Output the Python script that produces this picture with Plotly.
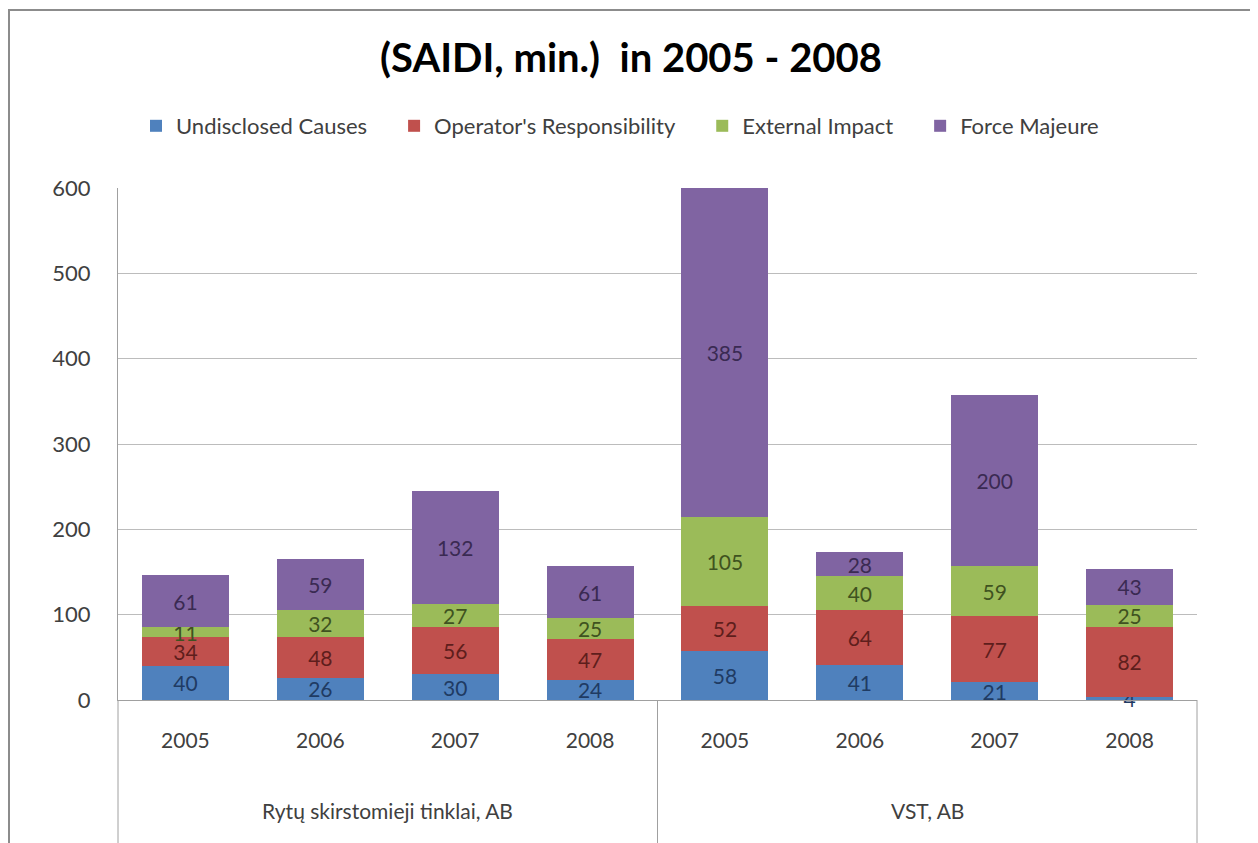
import plotly.graph_objects as go

# categories
groups = ["Rytų skirstomieji tinklai, AB", "VST, AB"]
years = ["2005", "2006", "2007", "2008"]

# series values, group 1 then group 2, years in order
undisclosed = [40, 26, 30, 24, 58, 41, 21, 4]
operator = [34, 48, 56, 47, 52, 64, 77, 82]
external = [11, 32, 27, 25, 105, 40, 59, 25]
force_majeure = [61, 59, 132, 61, 385, 28, 200, 43]

y_ticks = [0, 100, 200, 300, 400, 500, 600]

keys = [g + " " + y for g in groups for y in years]
labels = [y for g in groups for y in years]

series = [
    ("Undisclosed Causes", undisclosed, "#4F81BD", "#1F3B63"),
    ("Operator's Responsibility", operator, "#C0504D", "#5E1E1C"),
    ("External Impact", external, "#9BBB59", "#3F5220"),
    ("Force Majeure", force_majeure, "#8064A2", "#3A2A52"),
]

FONT = "Lato"
# page body has an 8px margin, so the figure is drawn 8px smaller
W, H = 1250, 835
PLOT_H = 512

fig = go.Figure()
for name, vals, color, tcolor in series:
    fig.add_trace(go.Bar(
        x=keys, y=vals, name=name + "\u2002\u2002",  # wider gap between legend items
        marker=dict(color=color, line=dict(width=0)),
        text=vals, textposition="inside", insidetextanchor="middle",
        textangle=0, constraintext="none", cliponaxis=False,
        textfont=dict(family=FONT, size=21, color=tcolor),
    ))

fig.update_layout(
    barmode="stack",
    bargap=0.355,
    width=W, height=H,
    margin=dict(l=110, r=61, t=180, b=143),
    paper_bgcolor="white", plot_bgcolor="white",
    font=dict(family=FONT, color="#404040"),
    uniformtext=dict(minsize=21, mode="show"),
    title=dict(text="<b>(SAIDI, min.)  in 2005 - 2008</b>",
               x=(631 - 8) / W, xanchor="center", y=1 - 50 / H, yanchor="middle",
               yref="container", font=dict(family=FONT, size=40, color="black")),
    legend=dict(orientation="h", x=(136 - 118) / 1079, xanchor="left",
                y=(692 - 118) / PLOT_H, yanchor="middle",
                font=dict(family=FONT, size=22, color="#404040"),
                traceorder="normal"),
    showlegend=True,
)

fig.update_xaxes(
    type="category", tickmode="array", tickvals=keys, ticktext=labels,
    tickfont=dict(family=FONT, size=21, color="#404040"),
    showline=True, linecolor="#a0a0a0", linewidth=1,
    showgrid=False, ticks="", ticklabelstandoff=22,
)
fig.update_yaxes(
    range=[0, 600], tickvals=y_ticks,
    tickfont=dict(family=FONT, size=22, color="#404040"),
    showline=True, linecolor="#a0a0a0", linewidth=1,
    showgrid=True, gridcolor="#bcbcbc", gridwidth=1,
    zeroline=False, ticks="", ticklabelstandoff=22,
)

# group labels and dividers under the axis
for i, g in enumerate(groups):
    fig.add_annotation(text=g, xref="paper", yref="paper",
                       x=(i + 0.5) / len(groups), y=(692 - 802) / PLOT_H,
                       xanchor="center", yanchor="middle", showarrow=False,
                       font=dict(family=FONT, size=21, color="#404040"))
for i in range(len(groups) + 1):
    fig.add_shape(type="line", xref="paper", yref="paper",
                  x0=i / len(groups), x1=i / len(groups), y0=0, y1=-0.3,
                  line=dict(color="#a0a0a0", width=1))

# chart border
fig.add_shape(type="rect", xref="paper", yref="paper",
              x0=(1 - 110) / 1079, x1=(1247 - 110) / 1079,
              y0=-0.35, y1=(692 - 2) / PLOT_H,
              line=dict(color="#8c8c8c", width=2))

fig.write_html("out.html")
